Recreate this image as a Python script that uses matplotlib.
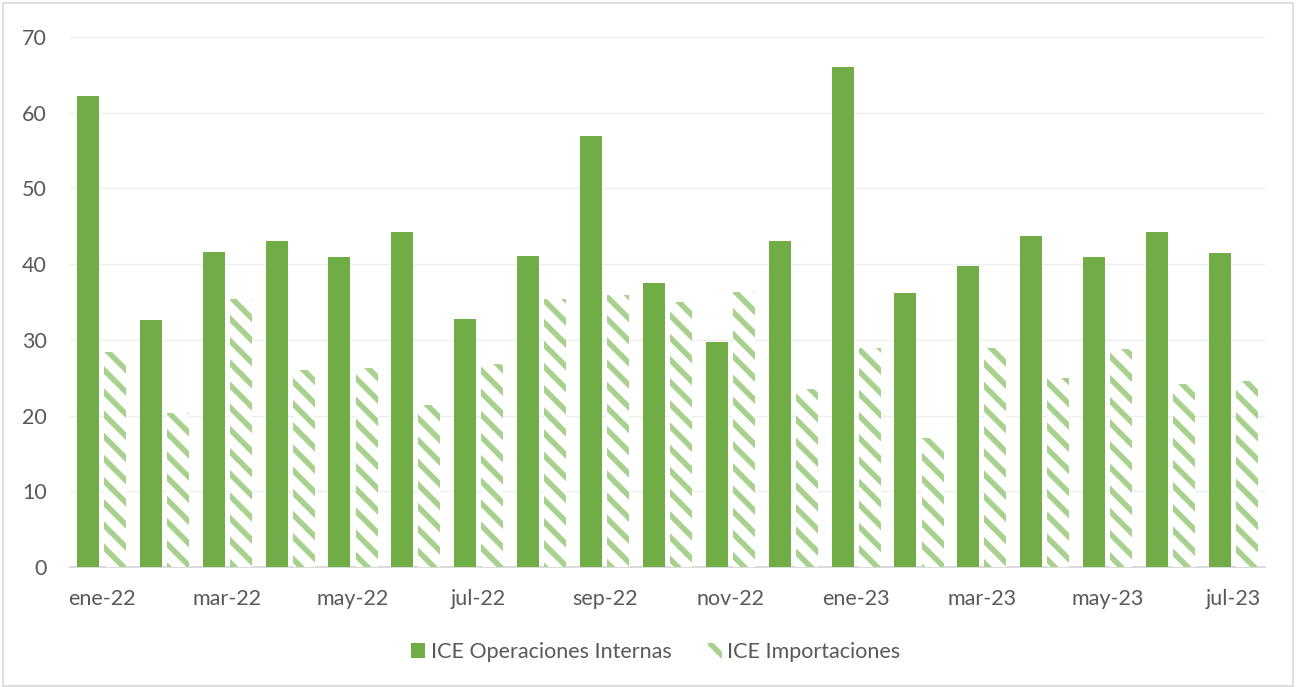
import matplotlib
matplotlib.use("Agg")
import matplotlib.pyplot as plt
import numpy as np
from matplotlib.patches import Rectangle

months = ["ene-22", "feb-22", "mar-22", "abr-22", "may-22", "jun-22", "jul-22", "ago-22",
          "sep-22", "oct-22", "nov-22", "dic-22", "ene-23", "feb-23", "mar-23", "abr-23",
          "may-23", "jun-23", "jul-23"]
internas = [62.2, 32.6, 41.6, 43.1, 40.9, 44.2, 32.8, 41.1, 56.9, 37.5, 29.7, 43.1,
            66.0, 36.2, 39.8, 43.7, 40.9, 44.3, 41.5]
importaciones = [28.4, 20.3, 35.4, 26.0, 26.3, 21.4, 26.8, 35.4, 35.9, 35.0, 36.3, 23.5,
                 28.9, 17.0, 28.9, 25.0, 28.8, 24.2, 24.6]

DPI = 133.33
plt.rcParams['font.family'] = ['Lato', 'DejaVu Sans']
plt.rcParams['hatch.linewidth'] = 3.0

fig = plt.figure(figsize=(1296 / DPI, 687 / DPI), dpi=DPI)
ax = fig.add_axes([0.054, 0.1747, 0.922, 0.7715])

x = np.arange(len(months))
w = 0.35
gap = 0.04
ax.bar(x - w / 2 - gap, internas, width=w, color="#70AD47", zorder=3,
       label="ICE Operaciones Internas")
ax.bar(x + w / 2 + gap, importaciones, width=w, facecolor="white", edgecolor="#A9D18E",
       hatch="\\\\", linewidth=0, zorder=3, label="ICE Importaciones")

fs = 11.6
ax.set_xlim(-0.5, len(months) - 0.5)
ax.set_ylim(0, 70)
ax.set_yticks(range(0, 71, 10))
ax.set_xticks(x[::2])
ax.set_xticklabels(months[::2])
ax.tick_params(axis='both', length=0, labelsize=fs, colors="#595959")
ax.tick_params(axis='x', pad=12)
ax.tick_params(axis='y', pad=12.4)
ax.grid(axis='y', color="#EEEEEE", linewidth=0.75, zorder=0)
for s in ["top", "right", "left"]:
    ax.spines[s].set_visible(False)
ax.spines["bottom"].set_color("#D9D9D9")
ax.spines["bottom"].set_linewidth(1.0)

leg = fig.legend(loc="center", bbox_to_anchor=(0.506, 0.051), ncol=2, frameon=False,
                 fontsize=fs, handlelength=0.65, handleheight=0.65, columnspacing=1.7,
                 handletextpad=0.25)
for t in leg.get_texts():
    t.set_color("#595959")

fig.patches.append(Rectangle((0.002, 0.002), 0.996, 0.994, transform=fig.transFigure,
                             fill=False, edgecolor="#D9D9D9", linewidth=0.9))

fig.savefig("out.png", dpi=DPI)
